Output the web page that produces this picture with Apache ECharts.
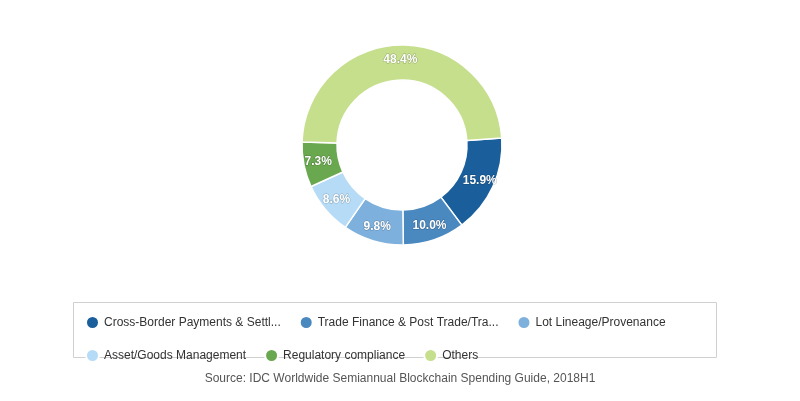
<!DOCTYPE html>
<html><head><meta charset="utf-8">
<script src="https://cdn.jsdelivr.net/npm/echarts@6/dist/echarts.min.js"></script>
<style>html,body{margin:0;padding:0;background:#fff}#c{width:800px;height:401px}</style>
</head><body><div id="c"></div>
<script>
const categories = ["Cross-Border Payments & Settlement","Trade Finance & Post Trade/Transaction Settlements","Lot Lineage/Provenance","Asset/Goods Management","Regulatory compliance","Others"];
const values = [15.9, 10.0, 9.8, 8.6, 7.3, 48.4];
const colors = ["#1a5f9c","#4a88c0","#7db0dc","#b6dbf6","#6aa84f","#c6df8d"];
const chart = echarts.init(document.getElementById('c'));
chart.setOption({
  animation:false,
  color: colors,
  graphic:[
    {type:'rect',shape:{x:73.5,y:302.5,width:643,height:55},style:{fill:'none',stroke:'#d0d0d0',lineWidth:1}},
    {type:'text',left:'center',top:373,style:{text:'Source: IDC Worldwide Semiannual Blockchain Spending Guide, 2018H1',fill:'#555',font:'12px Arial'}}
  ],
  legend:{
    left:80, top:310, width:640, itemGap:18,
    icon:'circle', itemWidth:13, itemHeight:13,
    textStyle:{fontFamily:'Arial',fontSize:12,color:'#333',width:185,overflow:'truncate',ellipsis:'...'},
    data: categories
  },
  series:[{
    type:'pie', center:[402,145], radius:[65,100], startAngle:4, clockwise:true,
    itemStyle:{borderColor:'#fff',borderWidth:1.5},
    label:{position:'inside',formatter:p=>p.value.toFixed(1)+'%',color:'#fff',fontFamily:'Arial',fontSize:12,fontWeight:'bold',textBorderColor:'rgba(0,0,0,0.25)',textBorderWidth:1},
    labelLine:{show:false},
    data: categories.map((n,i)=>({name:n,value:values[i]}))
  }]
});
</script></body></html>
